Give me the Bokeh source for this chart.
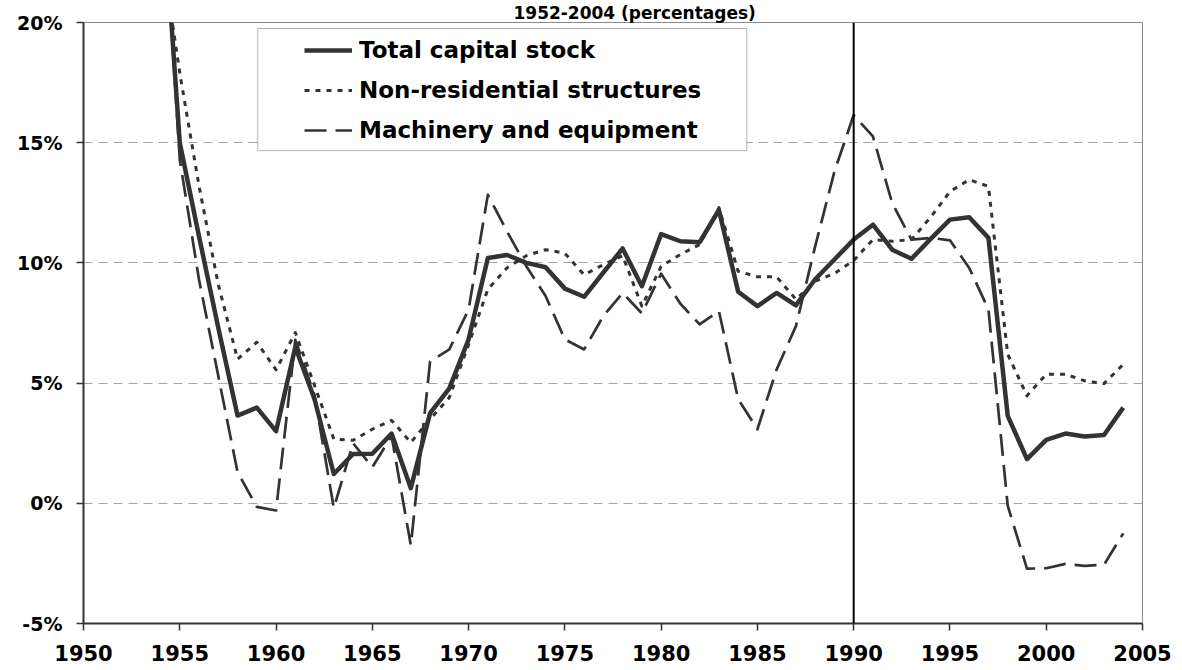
from bokeh.plotting import figure
from bokeh.models import (FixedTicker, PrintfTickFormatter, Span, Legend,
                          LegendItem, BoxAnnotation, Range1d)
from bokeh.embed import file_html
from bokeh.resources import INLINE

# ---------------- data ----------------
years = list(range(1952, 2005))

total = [35.0, 30.0, 26.5, 15.0, 11.1, 7.3, 3.65, 3.98, 3.0, 6.5,
         4.33, 1.22, 2.05, 2.06, 2.9, 0.63, 3.75, 4.78, 6.82, 10.2,
         10.33, 10.0, 9.82, 8.93, 8.59, 9.6, 10.6, 9.03, 11.2, 10.9,
         10.86, 12.2, 8.8, 8.2, 8.75, 8.23, 9.32, 10.14, 10.97, 11.59,
         10.55, 10.17, 11.0, 11.8, 11.9, 11.04, 3.64, 1.84, 2.64, 2.9,
         2.78, 2.84, 3.98]

structures = [33.0, 28.0, 23.3, 17.9, 13.2, 9.1, 6.0, 6.7, 5.55, 7.1,
              4.9, 2.67, 2.62, 3.08, 3.45, 2.53, 3.5, 4.4, 6.6, 8.9,
              9.8, 10.3, 10.55, 10.4, 9.5, 9.93, 10.3, 8.2, 9.86, 10.35,
              10.76, 12.3, 9.65, 9.42, 9.42, 8.48, 9.24, 9.56, 10.1, 10.97,
              10.9, 10.97, 11.9, 12.97, 13.46, 13.18, 6.2, 4.47, 5.37, 5.37,
              5.09, 4.98, 5.78]

machinery = [38.0, 31.0, 27.0, 14.3, 9.3, 5.3, 1.3, -0.15, -0.3, 6.8,
             4.5, -0.2, 2.5, 1.5, 2.8, -1.75, 5.9, 6.4, 8.06, 12.83,
             11.3, 9.86, 8.62, 6.82, 6.4, 7.79, 8.75, 7.9, 9.55, 8.3,
             7.44, 8.0, 4.33, 3.08, 5.57, 7.37, 10.69, 13.8, 16.15, 15.26,
             12.49, 10.97, 11.04, 10.94, 9.79, 8.06, -0.1, -2.72, -2.7, -2.52,
             -2.6, -2.56, -1.25]

series_labels = ["Total capital stock", "Non-residential structures",
                 "Machinery and equipment"]
x_ticks = list(range(1950, 2006, 5))
y_ticks = [-5, 0, 5, 10, 15, 20]
grid_levels = [0, 5, 10, 15]
marker_year = 1990
title_text = "1952-2004 (percentages)"

# ---------------- figure ----------------
FONT = "DejaVu Sans"
INK = "#333333"

p = figure(width=1182, height=670,
           x_range=Range1d(1950, 2005), y_range=Range1d(-5, 20),
           output_backend="svg", toolbar_location=None,
           min_border_left=83, min_border_right=40,
           min_border_top=18, min_border_bottom=47)

p.title.text = title_text
p.title.text_font = FONT
p.title.text_font_style = "bold"
p.title.text_font_size = "17px"
p.title.text_color = "black"
p.title.align = "left"
p.title.offset = 430
p.title.standoff = 0

p.background_fill_color = "white"
p.border_fill_color = "white"
p.outline_line_color = "#8c8c8c"
p.outline_line_width = 1

p.xaxis.ticker = FixedTicker(ticks=x_ticks)
p.yaxis.ticker = FixedTicker(ticks=y_ticks)
p.yaxis.formatter = PrintfTickFormatter(format="%d%%")

for ax in (p.xaxis[0], p.yaxis[0]):
    ax.axis_line_color = INK
    ax.axis_line_width = 2
    ax.major_tick_line_color = INK
    ax.major_tick_line_width = 1.5
    ax.major_tick_in = 0
    ax.major_tick_out = 7
    ax.minor_tick_line_color = None
    ax.major_label_text_font = FONT
    ax.major_label_text_font_style = "bold"
    ax.major_label_text_color = "black"

p.xaxis.major_label_text_font_size = "21px"
p.xaxis.major_label_standoff = 14
p.yaxis.major_label_text_font_size = "19px"
p.yaxis.major_label_standoff = 14

p.xgrid.visible = False
p.ygrid.ticker = FixedTicker(ticks=grid_levels)
p.ygrid.grid_line_color = "#a6a6a6"
p.ygrid.grid_line_dash = "9 6"
p.ygrid.grid_line_width = 1

# lines
r_total = p.line(years, total, line_color=INK, line_width=4.5, line_join="round")
r_struct = p.line(years, structures, line_color=INK, line_width=3,
                  line_dash="5 6", line_join="round")
r_mach = p.line(years, machinery, line_color=INK, line_width=2.7,
                line_dash="22 9", line_join="round")

# 1990 marker
p.add_layout(Span(location=marker_year, dimension="height",
                  line_color="black", line_width=2))

# legend frame
p.add_layout(BoxAnnotation(left=1959.05, right=1984.45, bottom=14.67, top=19.75,
                           fill_color="white", fill_alpha=1.0,
                           line_color="black", line_width=1))

legend = Legend(items=[LegendItem(label=series_labels[0], renderers=[r_total]),
                       LegendItem(label=series_labels[1], renderers=[r_struct]),
                       LegendItem(label=series_labels[2], renderers=[r_mach])],
                location=(217, 472), padding=4, spacing=6, margin=0,
                glyph_width=48, glyph_height=34, label_height=34,
                label_standoff=7, label_text_font=FONT,
                label_text_font_style="bold", label_text_font_size="23px",
                label_text_color="black",
                border_line_alpha=0, background_fill_alpha=0)
p.add_layout(legend)

open("out.html", "w").write(file_html(p, INLINE))
